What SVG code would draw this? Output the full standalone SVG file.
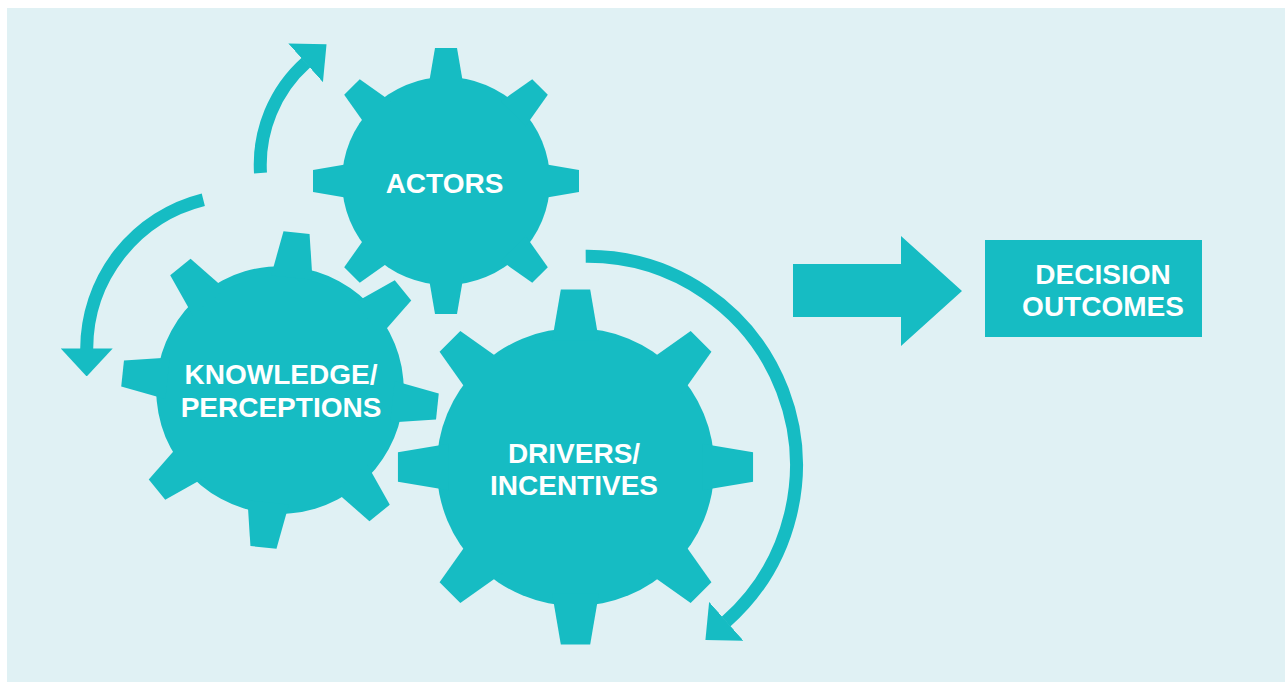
<svg xmlns="http://www.w3.org/2000/svg" xmlns:xlink="http://www.w3.org/1999/xlink" width="1285" height="682" viewBox="0 0 1285 682">
<style>
.fill{fill:#16BCC3}
.lbl{font-family:"Liberation Sans",Arial,sans-serif;font-weight:bold;font-size:28px;fill:#FFFFFF;text-anchor:middle}
.arc{fill:none;stroke:#16BCC3;stroke-width:13;marker-end:url(#head)}
</style>
<defs>
<polygon id="tooth" points="-17.5,-95 -11,-133 11,-133 17.5,-95"/>
<marker id="head" viewBox="0 -26 28 52" refX="0.5" refY="0" markerWidth="28" markerHeight="52" markerUnits="userSpaceOnUse" orient="auto">
<path d="M0,-26 L28,0 L0,26 Z" fill="#16BCC3"/>
</marker>
<g id="gear" class="fill">
<circle r="104"/>
<use xlink:href="#tooth"/>
<use xlink:href="#tooth" transform="rotate(45)"/>
<use xlink:href="#tooth" transform="rotate(90)"/>
<use xlink:href="#tooth" transform="rotate(135)"/>
<use xlink:href="#tooth" transform="rotate(180)"/>
<use xlink:href="#tooth" transform="rotate(225)"/>
<use xlink:href="#tooth" transform="rotate(270)"/>
<use xlink:href="#tooth" transform="rotate(315)"/>
</g>
</defs>
<rect x="7" y="8" width="1278" height="674" fill="#E0F1F4"/>
<g id="connectors">
<path class="arc" d="M260.5,173 A137,137 0 0 1 306,62.5"/>
<path class="arc" d="M203.3,199.7 A154,154 0 0 0 86.7,349"/>
<path class="arc" d="M585.7,256.3 A209,209 0 0 1 726,621.7"/>
<polygon class="fill" points="793,264 901,264 901,236 962,291 901,346 901,317 793,317"/>
</g>
<g id="actors">
<use xlink:href="#gear" transform="translate(446,181)"/>
<text class="lbl" x="444.5" y="193">ACTORS</text>
</g>
<g id="knowledge">
<use xlink:href="#gear" transform="translate(280,390) scale(1.19) rotate(6)"/>
<text class="lbl" x="281" y="384">KNOWLEDGE/</text>
<text class="lbl" x="281" y="417">PERCEPTIONS</text>
</g>
<g id="drivers">
<use xlink:href="#gear" transform="translate(575.5,467) scale(1.335)"/>
<text class="lbl" x="574" y="463">DRIVERS/</text>
<text class="lbl" x="574" y="495">INCENTIVES</text>
</g>
<g id="decision">
<rect class="fill" x="985" y="240" width="217" height="97"/>
<text class="lbl" x="1103" y="284">DECISION</text>
<text class="lbl" x="1103" y="316">OUTCOMES</text>
</g>
</svg>
